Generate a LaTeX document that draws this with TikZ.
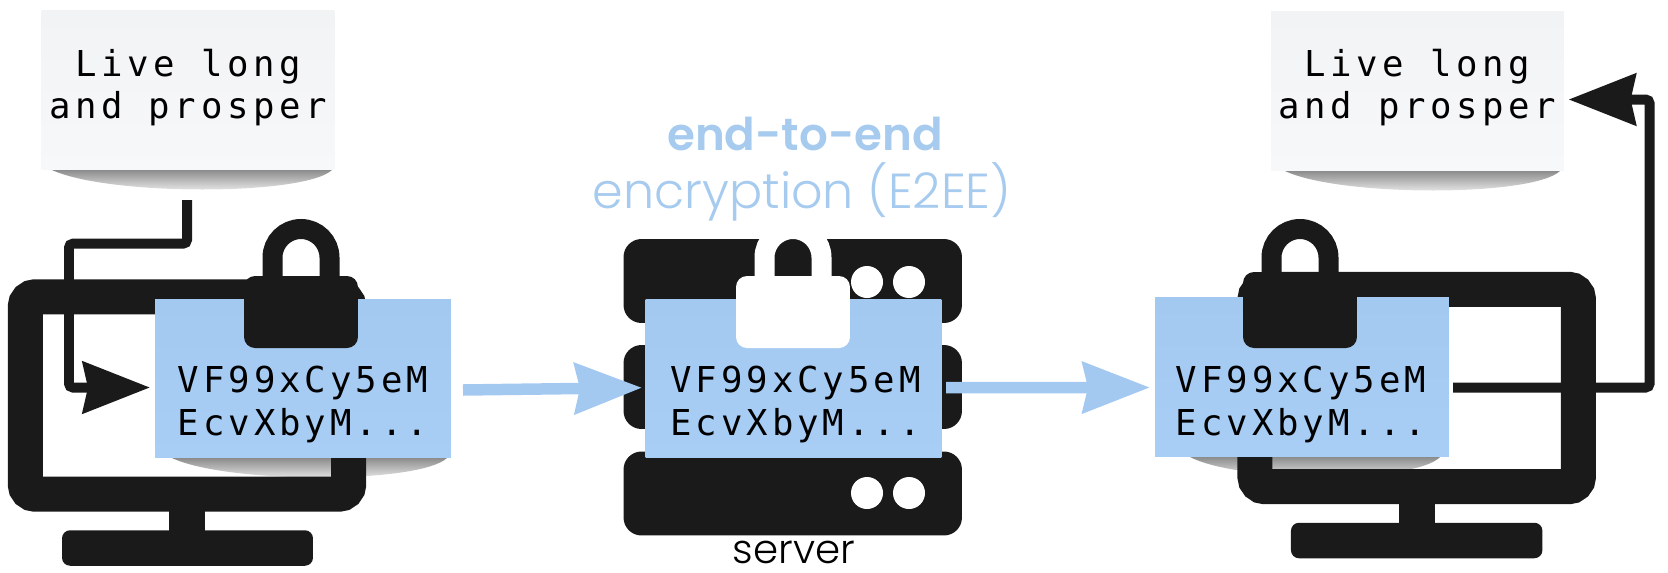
\documentclass[tikz,border=0pt]{standalone}
\usepackage{fontspec}
\usetikzlibrary{arrows.meta, fadings}
\newfontfamily\notefont[LetterSpace=13]{DejaVu Sans Mono}
\newfontfamily\codefont[LetterSpace=11]{DejaVu Sans Mono}
\newfontfamily\headfont{Poppins SemiBold}
\newfontfamily\lightfont{Poppins Light}
\definecolor{ink}{HTML}{1A1A1A}
\definecolor{notetop}{HTML}{F2F3F5}
\definecolor{notebot}{HTML}{F7F8FA}
\definecolor{ciphertop}{HTML}{A4C9F1}
\definecolor{cipherbot}{HTML}{A9CEF6}
\definecolor{headblue}{HTML}{A6CBEF}

\begin{document}
\begin{tikzpicture}[
  x=.02cm, y=-.02cm,
  monitor/.style={rectangle, draw=ink, fill=white, line width=.7cm, rounded corners=.2cm, minimum width=6.47cm, minimum height=3.95cm, outer sep=0pt},
  neck/.style={rectangle, fill=ink, minimum width=.72cm, minimum height=.46cm, outer sep=0pt},
  stand/.style={rectangle, fill=ink, rounded corners=.16cm, minimum height=.71cm, outer sep=0pt},
  rack/.style={rectangle, fill=ink, rounded corners=.36cm, minimum width=6.77cm, minimum height=1.68cm, outer sep=0pt},
  led/.style={circle, fill=white, minimum size=.64cm, inner sep=0pt},
  paper/.style={rectangle, top color=notetop, bottom color=notebot, minimum width=5.86cm, minimum height=3.2cm, outer sep=0pt},
  cipher/.style={rectangle, top color=ciphertop, bottom color=cipherbot, minimum width=5.92cm, minimum height=3.18cm, outer sep=0pt},
  msg/.style={align=center, inner sep=0pt, font=\notefont\fontsize{20.3}{24.2}\selectfont},
  code/.style={align=center, inner sep=0pt, font=\codefont\fontsize{20.3}{24.2}\selectfont},
  lockbody/.style={rectangle, rounded corners=.22cm, minimum width=2.28cm, inner sep=0pt, outer sep=0pt},
  papershadow/.style={fill=ink, fill opacity=.5, path fading=south},
  inkarrow/.style={draw=ink, line width=.2cm, rounded corners=.08cm, -{Stealth[length=1.34cm, width=1.02cm, inset=.1cm]}},
  bluearrow/.style={draw=ciphertop, line width=.23cm, -{Stealth[length=1.34cm, width=1cm, inset=.1cm]}},
]
\useasboundingbox (0,0) rectangle (1668,572);

\node[monitor] (monitorleft) at (187,395.5) {};
\node[neck] (neckleft) at (187,521) {};
\node[stand, minimum width=5.02cm] (standleft) at (187.5,548) {};

\node[monitor] (monitorright) at (1416.7,388) {};
\node[neck] (neckright) at (1416.7,513.5) {};
\node[stand, minimum width=5.03cm] (standright) at (1416.7,540.5) {};

\foreach \racky/\rackname in {281/top, 387/mid, 493.5/bottom}
  \node[rack] (rack\rackname) at (792.75,\racky) {};
\foreach \dotx in {867,909}
  \foreach \doty in {282,493}
    \node[led] (led\dotx\doty) at (\dotx,\doty) {};

\foreach \sx/\sy/\sw in {52/170/280, 1285/171/275, 172/458/275, 1190/457/250}
  \fill[papershadow] (\sx,\sy) .. controls (\sx+.2*\sw,\sy+26) and (\sx+.9*\sw,\sy+26) .. (\sx+\sw,\sy) -- cycle;

\node[paper] (noteleft) at (188,90) {};
\node[paper] (noteright) at (1417.5,91) {};
\node[cipher] (cipherleft) at (303,378.5) {};
\node[cipher] (cipherserver) at (793.5,378.5) {};
\node[cipher, minimum width=5.88cm] (cipherright) at (1302,377) {};

\node[msg] (textleft) at (188,87.5) {Live long\\and prosper};
\node[msg] (textright) at (1417.5,87.5) {Live long\\and prosper};
\node[code] (codeleft) at (303,404.5) {VF99xCy5eM\\EcvXbyM...};
\node[code] (codeserver) at (795.5,404.5) {VF99xCy5eM\\EcvXbyM...};
\node[code] (coderight) at (1301,404.5) {VF99xCy5eM\\EcvXbyM...};

\foreach \lockx/\locktop/\lockcol in {301/276/ink, 793/276/white, 1300/272/ink} {
  \draw[\lockcol, line width=.4cm] (\lockx-28.5,\locktop+4) -- (\lockx-28.5,257.5) arc[start angle=180, end angle=360, radius=28.5] -- (\lockx+28.5,\locktop+4);
  \node[lockbody, fill=\lockcol, anchor=south, minimum height={(348-\locktop)*.02cm}] (lock\lockx) at (\lockx,348) {};
}

\coordinate (leftstart) at (187,200);
\coordinate (leftbendone) at (187,243.7);
\coordinate (leftbendtwo) at (69,243.7);
\coordinate (leftbendthree) at (69,387.5);
\coordinate (leftend) at (150,387.5);
\draw[inkarrow] (leftstart) -- (leftbendone) -- (leftbendtwo) -- (leftbendthree) -- (leftend);

\coordinate (sendstart) at (463,390);
\coordinate (sendend) at (642,387.7);
\draw[bluearrow] (sendstart) -- (sendend);
\coordinate (passstart) at (946,387.7);
\coordinate (passend) at (1150,387.5);
\draw[bluearrow] (passstart) -- (passend);

\coordinate (rightstart) at (1453,387.5);
\coordinate (rightbendone) at (1649.6,387.5);
\coordinate (rightbendtwo) at (1649.6,99.5);
\coordinate (rightend) at (1568.6,99.5);
\draw[inkarrow] (rightstart) -- (rightbendone) -- (rightbendtwo) -- (rightend);

\node[anchor=base, inner sep=0pt, text=headblue, font=\headfont\fontsize{25.7}{26}\selectfont] (headbold) at (805,150) {end-to-end};
\node[anchor=base, inner sep=0pt, text=headblue, font=\lightfont\fontsize{28}{28}\selectfont] (headlight) at (802,208) {encryption (E2EE)};
\node[anchor=base, inner sep=0pt, text=black, font=\lightfont\fontsize{23}{23}\selectfont] (serverlabel) at (794,563) {server};

\end{tikzpicture}
\end{document}
